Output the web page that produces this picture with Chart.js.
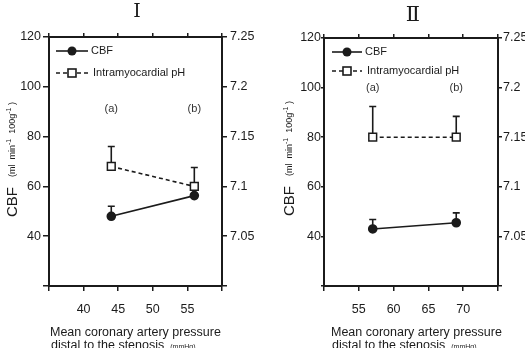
<!DOCTYPE html>
<html>
<head>
<meta charset="utf-8">
<script src="https://cdn.jsdelivr.net/npm/chart.js@4.4.1/dist/chart.umd.min.js"></script>
<style>
  body { margin: 0; background: #fff; }
  #wrap { position: relative; width: 525px; height: 348px; overflow: hidden; }
  canvas { position: absolute; top: 0; }
</style>
</head>
<body>
<div id="wrap">
  <canvas id="panelI" width="262" height="348" style="left:0"></canvas>
  <canvas id="panelII" width="263" height="348" style="left:262px"></canvas>
</div>
<script>
// values
const panelNames = ["Ⅰ", "Ⅱ"];
const pointNames = ["(a)", "(b)"];

const pressureI = [44, 56];
const cbfI = [48, 56.3];
const cbfErrI = [4, 4];
const phI = [7.12, 7.10];
const phErrI = [0.02, 0.019];

const pressureII = [57, 69];
const cbfII = [43, 45.5];
const cbfErrII = [3.8, 4];
const phII = [7.15, 7.15];
const phErrII = [0.031, 0.021];

const cbfTicks = [40, 60, 80, 100, 120];
const phTicks = [7.05, 7.1, 7.15, 7.2, 7.25];
const pressureTicksI = [40, 45, 50, 55];
const pressureTicksII = [55, 60, 65, 70];

const INK = "#1b1b1b";
const SANS = '"Liberation Sans", Arial, Helvetica, sans-serif';

function inList(list, v) {
    return list.some(t => Math.abs(t - v) < 1e-6);
}

// vertical error bars going up from each point, drawn under the markers
const errorBars = {
    id: "errorBars",
    beforeDatasetsDraw(chart) {
        const ctx = chart.ctx;
        chart.data.datasets.forEach((ds, i) => {
            const meta = chart.getDatasetMeta(i);
            const yScale = chart.scales[ds.yAxisID];
            ds.data.forEach((p, j) => {
                const x = meta.data[j].x;
                const y0 = meta.data[j].y;
                const y1 = yScale.getPixelForValue(p.y + ds.errors[j]);
                ctx.save();
                ctx.strokeStyle = INK;
                ctx.lineWidth = 1.6;
                ctx.beginPath();
                ctx.moveTo(x, y0);
                ctx.lineTo(x, y1);
                ctx.moveTo(x - 3.5, y1);
                ctx.lineTo(x + 3.5, y1);
                ctx.stroke();
                ctx.restore();
            });
        });
    }
};

function drawRich(ctx, parts) {
    let x = 0;
    parts.forEach(([t, size, rise]) => {
        ctx.font = size + "px " + SANS;
        ctx.fillText(t, x, rise);
        x += ctx.measureText(t).width;
    });
}

function makePanel(canvasId, d) {
    const decorations = {
        id: "decorations",
        afterDraw(chart) {
            const ctx = chart.ctx;
            const xs = chart.scales.x;
            const ys = chart.scales.y;
            ctx.save();
            ctx.fillStyle = INK;
            ctx.strokeStyle = INK;

            // roman numeral title
            ctx.font = d.titleSize + 'px "DejaVu Serif", "Liberation Serif", serif';
            ctx.textAlign = "center";
            ctx.textBaseline = "middle";
            ctx.fillText(d.title, d.titleX, d.titleY);

            // (a) / (b)
            ctx.font = "11px " + SANS;
            ctx.fillStyle = "#333";
            pointNames.forEach((n, i) => {
                ctx.fillText(n, xs.getPixelForValue(d.pressure[i]), ys.getPixelForValue(d.labelLevel));
            });
            ctx.fillStyle = INK;

            // legend inside the plot
            ctx.lineWidth = 1.6;
            ctx.beginPath();
            ctx.moveTo(d.legX0, d.legY1);
            ctx.lineTo(d.legX1, d.legY1);
            ctx.stroke();
            ctx.beginPath();
            ctx.arc((d.legX0 + d.legX1) / 2, d.legY1, 4.5, 0, Math.PI * 2);
            ctx.fill();
            ctx.setLineDash([4, 3]);
            ctx.beginPath();
            ctx.moveTo(d.legX0, d.legY2);
            ctx.lineTo(d.legX1, d.legY2);
            ctx.stroke();
            ctx.setLineDash([]);
            const sx = (d.legX0 + d.legX1) / 2;
            ctx.fillStyle = "#fff";
            ctx.fillRect(sx - 4, d.legY2 - 4, 8, 8);
            ctx.fillStyle = INK;
            ctx.strokeRect(sx - 4, d.legY2 - 4, 8, 8);
            ctx.font = "11px " + SANS;
            ctx.textAlign = "left";
            ctx.fillText("CBF", d.legX1 + 3, d.legY1);
            ctx.fillText("Intramyocardial pH", d.legX1 + 5, d.legY2);

            // y title, rotated
            ctx.save();
            ctx.translate(d.yTitleX, d.yTitleBottom);
            ctx.rotate(-Math.PI / 2);
            ctx.textAlign = "left";
            ctx.textBaseline = "middle";
            drawRich(ctx, [["CBF", 15, 0], ["    (ml  min", 9, 0], ["-1", 7, -4],
                ["  100g", 9, 0], ["-1", 7, -4], [" )", 9, 0]]);
            ctx.restore();

            // x title
            ctx.textAlign = "left";
            ctx.textBaseline = "middle";
            ctx.font = "12.5px " + SANS;
            ctx.fillText("Mean coronary artery pressure", d.xTitleX, 333);
            ctx.fillText("distal to the stenosis", d.xTitleX + 1, 346);
            const w = ctx.measureText("distal to the stenosis").width;
            ctx.font = "7px " + SANS;
            ctx.fillText("(mmHg)", d.xTitleX + 1 + w + 6, 347);
            ctx.restore();
        }
    };

    const tickFont = { family: SANS, size: 12.5 };
    const grid = { drawOnChartArea: false, drawTicks: true, color: INK, lineWidth: 1.5 };
    const border = { display: true, color: INK, width: 2 };

    return new Chart(document.getElementById(canvasId), {
        type: "line",
        data: {
            datasets: [{
                label: "CBF",
                data: d.pressure.map((p, i) => ({ x: p, y: d.cbf[i] })),
                errors: d.cbfErr,
                yAxisID: "y",
                borderColor: INK,
                borderWidth: 1.6,
                pointStyle: "circle",
                pointRadius: 4,
                pointBackgroundColor: INK,
                pointBorderColor: INK,
                fill: false,
                tension: 0
            }, {
                label: "Intramyocardial pH",
                data: d.pressure.map((p, i) => ({ x: p, y: d.ph[i] })),
                errors: d.phErr,
                yAxisID: "yR",
                borderColor: INK,
                borderWidth: 1.6,
                borderDash: [4, 3],
                pointStyle: "rect",
                pointRadius: 5.5,
                pointBorderWidth: 1.5,
                pointBackgroundColor: "#fff",
                pointBorderColor: INK,
                fill: false,
                tension: 0
            }]
        },
        options: {
            responsive: false,
            animation: false,
            layout: { padding: 0 },
            plugins: { legend: { display: false }, tooltip: { enabled: false } },
            scales: {
                x: {
                    type: "linear", position: "bottom", min: d.xMin, max: d.xMax,
                    grid: { ...grid, tickLength: 5 }, border,
                    ticks: {
                        stepSize: 5, autoSkip: false, maxRotation: 0, padding: 11,
                        color: INK, font: tickFont,
                        callback: v => inList(d.xTicks, v) ? String(v) : ""
                    },
                    afterFit: s => { s.height = 348 - d.bottom; }
                },
                xTop: {
                    type: "linear", position: "top", min: d.xMin, max: d.xMax,
                    grid: { ...grid, tickLength: 4 }, border,
                    ticks: { stepSize: 5, autoSkip: false, maxRotation: 0, callback: () => "" },
                    afterFit: s => { s.height = d.top; }
                },
                y: {
                    type: "linear", position: "left", min: 20, max: 120,
                    grid: { ...grid, tickLength: d.yTick }, border,
                    ticks: {
                        stepSize: 20, padding: d.yPad, color: INK, font: tickFont,
                        callback: v => inList(cbfTicks, v) ? String(v) : ""
                    },
                    afterFit: s => { s.width = d.left; }
                },
                yR: {
                    type: "linear", position: "right", min: 7.0, max: 7.25,
                    grid: { ...grid, tickLength: d.yRTick }, border,
                    ticks: {
                        stepSize: 0.05, padding: d.yRPad, color: INK, font: tickFont,
                        callback: v => inList(phTicks, v) ? String(Math.round(v * 100) / 100) : ""
                    },
                    afterFit: s => { s.width = d.width - d.right; }
                }
            }
        },
        plugins: [errorBars, decorations]
    });
}

makePanel("panelI", {
    pressure: pressureI, cbf: cbfI, cbfErr: cbfErrI, ph: phI, phErr: phErrI,
    xMin: 35, xMax: 60, xTicks: pressureTicksI,
    title: panelNames[0], titleX: 137, titleY: 12, titleSize: 19,
    width: 262, left: 49, right: 222, top: 37, bottom: 286,
    yTick: 6, yPad: 2, yRTick: 5, yRPad: 3,
    labelLevel: 91,
    legX0: 56, legX1: 88, legY1: 51, legY2: 73,
    yTitleX: 13, yTitleBottom: 217, xTitleX: 50
});

makePanel("panelII", {
    pressure: pressureII, cbf: cbfII, cbfErr: cbfErrII, ph: phII, phErr: phErrII,
    xMin: 50, xMax: 75, xTicks: pressureTicksII,
    title: panelNames[1], titleX: 151, titleY: 16, titleSize: 21,
    width: 263, left: 62, right: 236, top: 38, bottom: 286,
    yTick: 3, yPad: 0, yRTick: 4, yRPad: 1,
    labelLevel: 100,
    legX0: 70, legX1: 100, legY1: 52, legY2: 71,
    yTitleX: 28, yTitleBottom: 216, xTitleX: 69
});
</script>
</body>
</html>
